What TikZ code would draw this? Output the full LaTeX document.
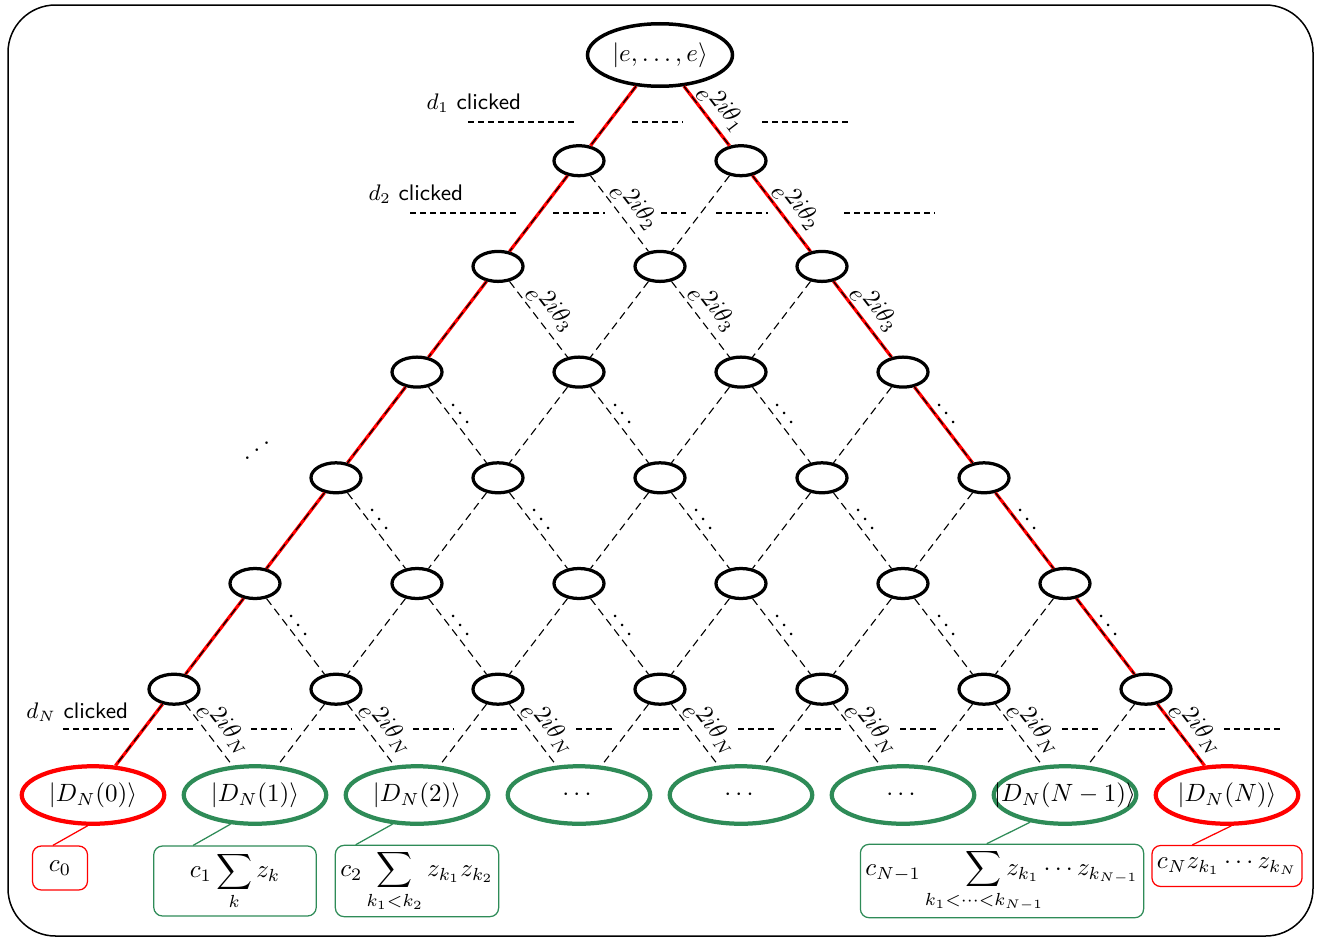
\documentclass[tikz,border=0pt]{standalone}
\usepackage{amsmath}
\usepackage{mathtools}
\usepackage{amssymb}
\usepackage{graphicx}
\usepackage{tikz}
\usetikzlibrary{
    arrows.meta,
    positioning,
    calc,
    shapes.geometric
}
\definecolor{PathRed}{RGB}{255,0,0}
\definecolor{StateGreen}{RGB}{46,139,87}
\tikzset{
  site/.style      = {draw, ellipse, line width=1.3pt, minimum width=20pt,
                      minimum height=12pt, inner sep=0pt},
  link/.style      = {dash pattern=on 3.2pt off 2pt, line width=0.45pt},
  redpath/.style   = {PathRed, line width=1.3pt},
  clickline/.style = {dash pattern=on 2.4pt off 1.6pt, line width=0.5pt}
}

\begin{document}
\begin{tikzpicture}[
    x=0.4pt, y=-0.4pt,
    top/.style={draw, ellipse, line width=1.4pt, minimum width=58pt,
                minimum height=25pt, inner sep=0pt},
    state/.style={draw=#1, ellipse, line width=1.7pt, minimum width=57pt,
                  minimum height=23pt, inner sep=0pt},
    coef/.style={draw=#1, rounded corners=3.5pt, line width=0.5pt, inner sep=2pt},
    phase/.style={sloped, above, inner sep=1pt},
    clicklab/.style={anchor=west, font=\small, inner sep=0pt}
]
\useasboundingbox (0,0) rectangle (1319,940);
\draw[line width=0.6pt, rounded corners=19pt] (8,5) rectangle (1313,936);

% lattice of states
\node[top] (n00) at (660,55) {$|e,\ldots,e\rangle$};
\foreach \r in {1,...,6}
  \foreach \k in {0,...,\r}
    \node[site] (n\r\k) at ({660+(2*\k-\r)*81},{55+105.7*\r}) {};
\foreach \k/\col/\txt in {0/PathRed/{$|D_N(0)\rangle$}, 1/StateGreen/{$|D_N(1)\rangle$},
                          2/StateGreen/{$|D_N(2)\rangle$}, 3/StateGreen/{$\cdots$},
                          4/StateGreen/{$\cdots$}, 5/StateGreen/{$\cdots$},
                          6/StateGreen/{$|D_N(N-1)\rangle$}, 7/PathRed/{$|D_N(N)\rangle$}}
  \node[state=\col, label=center:{\txt}] (n7\k) at ({660+(2*\k-7)*81},795) {};

% detector clicks
\node[clicklab] (d1lab) at (426,103) {$d_1$ \textsf{clicked}};
\node[clicklab] (d2lab) at (368,194) {$d_2$ \textsf{clicked}};
\node[clicklab] (dNlab) at (26,712) {$d_N$ \textsf{clicked}};
\foreach \a/\b in {468/578, 632/683, 762/852}
  \draw[clickline] (\a,122) -- (\b,122);
\foreach \a/\b in {410/519, 553/605, 661/686, 716/768, 844/935}
  \draw[clickline] (\a,213) -- (\b,213);
\foreach \a/\b in {63/130, 157/193, 251/292, 319/355, 413/454, 481/517, 576/616,
                   643/679, 738/778, 805/841, 900/940, 967/1003, 1062/1102,
                   1129/1165, 1224/1281}
  \draw[clickline] (\a,729) -- (\b,729);
\node (updots) at (257,443) {\reflectbox{$\ddots$}};

% outer paths
\foreach \r in {0,...,6} {
  \pgfmathtruncatemacro\rn{\r+1}
  \draw[redpath] (n\r0) -- (n\rn0);
  \draw[redpath] (n\r\r) -- (n\rn\rn);
}

% all transitions
\foreach \r/\p/\lab in {0/0.55/{$e^{\textstyle 2i\theta_1}$}, 1/0.55/{$e^{\textstyle 2i\theta_2}$},
                        2/0.5/{$e^{\textstyle 2i\theta_3}$}, 3/0.45/{$\cdots$}, 4/0.45/{$\cdots$},
                        5/0.45/{$\cdots$}, 6/0.56/{$e^{\textstyle 2i\theta_N}$}} {
  \pgfmathtruncatemacro\rn{\r+1}
  \foreach \k in {0,...,\r} {
    \pgfmathtruncatemacro\kn{\k+1}
    \draw[link] (n\r\k) -- (n\rn\k);
    \draw[link] (n\r\k) -- node[phase, pos=\p] {\lab} (n\rn\kn);
  }
}

% coefficients
\node[coef=PathRed, minimum width=22pt, minimum height=17.6pt] (c0) at (60,868) {$c_0$};
\node[coef=StateGreen, minimum width=65pt, minimum height=28pt] (c1) at (235,881)
  {$\displaystyle c_1\sum_k z_k$};
\node[coef=StateGreen, minimum width=65pt, minimum height=28pt] (c2) at (417,881)
  {$\displaystyle c_2\sum_{k_1<k_2} z_{k_1}z_{k_2}$};
\node[coef=StateGreen, minimum width=107.6pt, minimum height=28.4pt] (cN1) at (1002,881)
  {$\displaystyle c_{N-1}\smashoperator[r]{\sum_{k_1<\cdots<k_{N-1}}} z_{k_1}\cdots z_{k_{N-1}}$};
\node[coef=PathRed, minimum width=56pt, minimum height=16.4pt] (cN) at (1227,866)
  {$c_N z_{k_1}\cdots z_{k_N}$};

\draw[PathRed, line width=0.5pt] (n70.260) -- ($(c0.north west)+(21,0)$);
\draw[StateGreen, line width=0.5pt] (n71.230) -- ($(c1.north west)+(40,0)$);
\draw[StateGreen, line width=0.5pt] (n72.230) -- ($(c2.north west)+(21,0)$);
\draw[StateGreen, line width=0.5pt] (n76.218) -- ($(cN1.north west)+(127,0)$);
\draw[PathRed, line width=0.5pt] (n77.278) -- ($(cN.north west)+(41,0)$);
\end{tikzpicture}
\end{document}
